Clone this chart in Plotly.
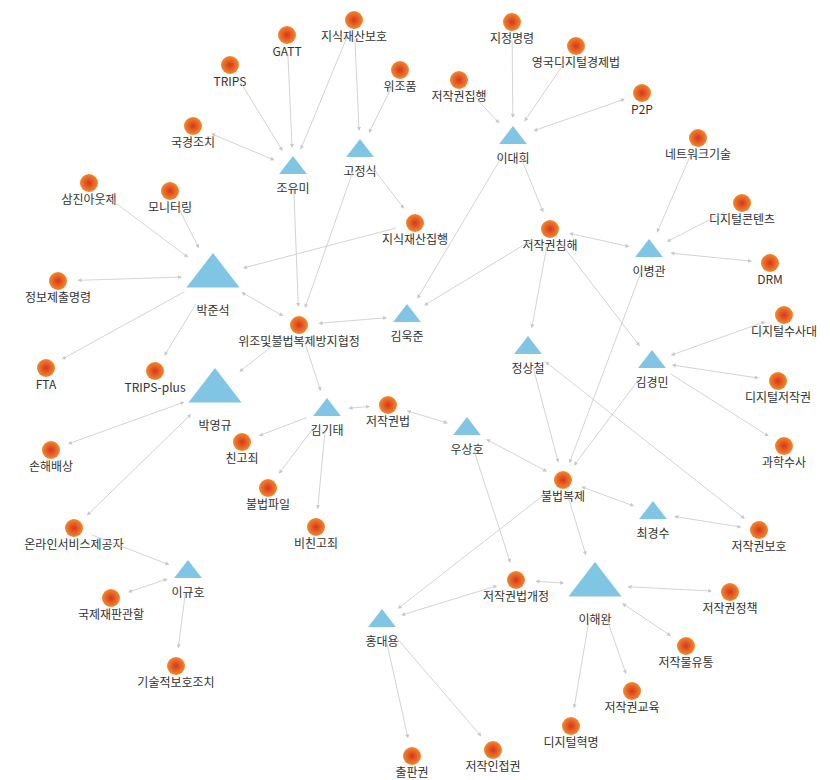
import plotly.graph_objects as go

# circle nodes (keywords)
kw_names = ["지식재산보호", "GATT", "TRIPS", "위조품", "국경조치", "지정명령", "영국디지털경제법",
            "저작권집행", "P2P", "네트워크기술", "모니터링", "삼진아웃제", "지식재산집행", "저작권침해",
            "디지털콘텐츠", "DRM", "정보제출명령", "위조및불법복제방지협정", "디지털수사대", "FTA",
            "TRIPS-plus", "저작권법", "디지털저작권", "친고죄", "손해배상", "과학수사", "불법복제",
            "불법파일", "비친고죄", "온라인서비스제공자", "저작권보호", "저작권법개정", "저작권정책",
            "국제재판관할", "저작물유통", "기술적보호조치", "저작권교육", "디지털혁명", "저작인접권", "출판권"]
kw_x = [346, 279, 222, 392, 185, 504, 568, 451, 634, 690, 162, 81, 407, 542, 734, 762, 50, 291, 776, 38,
        147, 380, 770, 234, 43, 776, 555, 260, 308, 66, 751, 508, 722, 103, 678, 168, 624, 563, 485, 404]
kw_y = [12, 27, 57, 62, 118, 14, 38, 72, 85, 130, 183, 175, 215, 221, 195, 255, 273, 317, 307, 360,
        363, 397, 373, 434, 442, 438, 472, 480, 519, 520, 522, 572, 584, 590, 638, 658, 683, 718, 742, 748]

# triangle nodes (authors)
au_names = ["조유미", "고정식", "이대희", "박준석", "이병관", "김욱준", "정상철", "김경민",
            "박영규", "김기태", "우상호", "최경수", "이규호", "이해완", "홍대용"]
au_x = [285, 352, 505, 205, 641, 399, 520, 644, 207, 319, 459, 645, 180, 587, 374]
au_y = [160, 143, 130, 268, 243, 308, 340, 354, 383, 402, 421, 505, 564, 577, 613]
au_size = [24, 24, 24, 46, 24, 24, 24, 24, 46, 24, 24, 24, 24, 46, 24]

# edges: (from, to, both directions)
edges = [
    ("지식재산보호", "조유미", 0), ("지식재산보호", "고정식", 0), ("GATT", "조유미", 0),
    ("TRIPS", "조유미", 0), ("국경조치", "조유미", 1), ("위조품", "고정식", 0),
    ("고정식", "지식재산집행", 0), ("고정식", "위조및불법복제방지협정", 0),
    ("조유미", "위조및불법복제방지협정", 0), ("지정명령", "이대희", 0),
    ("영국디지털경제법", "이대희", 0), ("저작권집행", "이대희", 0), ("이대희", "P2P", 1),
    ("이대희", "저작권침해", 0), ("이대희", "김욱준", 0), ("네트워크기술", "이병관", 0),
    ("디지털콘텐츠", "이병관", 0), ("이병관", "DRM", 1), ("저작권침해", "이병관", 1),
    ("저작권침해", "정상철", 0), ("저작권침해", "김경민", 0), ("저작권침해", "김욱준", 0),
    ("이병관", "불법복제", 0), ("모니터링", "박준석", 0), ("삼진아웃제", "박준석", 0),
    ("정보제출명령", "박준석", 1), ("지식재산집행", "박준석", 0), ("박준석", "FTA", 0),
    ("박준석", "TRIPS-plus", 0), ("박준석", "위조및불법복제방지협정", 1),
    ("위조및불법복제방지협정", "김욱준", 1), ("위조및불법복제방지협정", "박영규", 0),
    ("위조및불법복제방지협정", "김기태", 0), ("디지털수사대", "김경민", 1),
    ("디지털저작권", "김경민", 1), ("김경민", "과학수사", 0), ("김경민", "불법복제", 0),
    ("정상철", "불법복제", 0), ("정상철", "저작권보호", 1), ("박영규", "손해배상", 1),
    ("박영규", "온라인서비스제공자", 1), ("김기태", "저작권법", 1), ("김기태", "친고죄", 0),
    ("김기태", "불법파일", 0), ("김기태", "비친고죄", 0), ("저작권법", "우상호", 1),
    ("우상호", "불법복제", 1), ("우상호", "저작권법개정", 0), ("불법복제", "최경수", 1),
    ("최경수", "저작권보호", 1), ("불법복제", "이해완", 0), ("불법복제", "홍대용", 0),
    ("온라인서비스제공자", "이규호", 0), ("이규호", "국제재판관할", 1),
    ("이규호", "기술적보호조치", 0), ("저작권법개정", "이해완", 1), ("저작권법개정", "홍대용", 1),
    ("이해완", "저작권정책", 1), ("이해완", "저작물유통", 1), ("이해완", "저작권교육", 0),
    ("이해완", "디지털혁명", 0), ("홍대용", "저작인접권", 0), ("홍대용", "출판권", 0),
]

pos = {n: (x, y, 10) for n, x, y in zip(kw_names, kw_x, kw_y)}
for n, x, y, s in zip(au_names, au_x, au_y, au_size):
    pos[n] = (x, y, s / 2)

annots = []
for a, b, both in edges:
    xa, ya, ra = pos[a]
    xb, yb, rb = pos[b]
    annots.append(dict(x=xb, y=yb, ax=xa, ay=ya, xref="x", yref="y", axref="x", ayref="y",
                       text="", showarrow=True, arrowhead=2, arrowsize=1, arrowwidth=0.8,
                       arrowcolor="#c8c8c8", arrowside="end+start" if both else "end",
                       standoff=rb + 8, startstandoff=ra + 8))

font = dict(family="Noto Sans CJK KR", size=12, color="#333")
fig = go.Figure()
fig.add_trace(go.Scatter(
    x=kw_x, y=kw_y, mode="markers+text", text=kw_names, textposition="bottom center",
    textfont=font, hoverinfo="text",
    marker=dict(size=18, color="#f08a2c", line=dict(width=0),
                gradient=dict(type="radial", color="#d9341d"))))
fig.add_trace(go.Scatter(
    x=au_x, y=au_y, mode="markers+text", text=au_names, textposition="bottom center",
    textfont=font, hoverinfo="text",
    marker=dict(symbol="triangle-up", size=au_size, color="#4aaed8", line=dict(width=0))))

fig.update_layout(
    width=830, height=780, margin=dict(l=0, r=0, t=0, b=0),
    plot_bgcolor="white", paper_bgcolor="white", showlegend=False, annotations=annots,
    xaxis=dict(range=[0, 830], visible=False, fixedrange=True),
    yaxis=dict(range=[780, 0], visible=False, fixedrange=True),
)
fig.write_html("out.html")
